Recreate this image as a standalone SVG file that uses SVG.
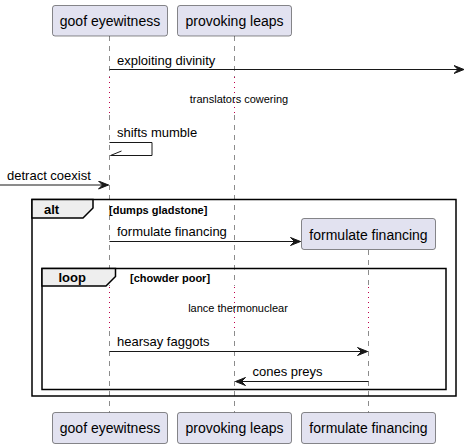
<svg xmlns="http://www.w3.org/2000/svg" width="465" height="448" viewBox="0 0 465 448">
<defs>
<style>
.box{fill:#E2E2F0;stroke:#181818;stroke-width:0.5}
.pt{font-family:"Liberation Sans",Arial,sans-serif;font-size:14px;fill:#000;text-anchor:middle}
.life{stroke:#181818;stroke-width:0.5;stroke-dasharray:5,5;fill:none}
.delay{stroke:#C0004A;stroke-width:1;stroke-dasharray:1,4;fill:none}
.msg{stroke:#181818;stroke-width:1;fill:none}
.mt{font-family:"Liberation Sans",Arial,sans-serif;font-size:13px;fill:#000}
.dt{font-family:"Liberation Sans",Arial,sans-serif;font-size:11px;fill:#000;text-anchor:middle}
.frame{fill:none;stroke:#000;stroke-width:1.5}
.tab{fill:#EEEEEE;stroke:#000;stroke-width:1.5}
.ft{font-family:"Liberation Sans",Arial,sans-serif;font-size:13px;font-weight:bold;fill:#000}
.gt{font-family:"Liberation Sans",Arial,sans-serif;font-size:11px;font-weight:bold;fill:#000}
</style>
<marker id="ah" markerUnits="userSpaceOnUse" markerWidth="11" markerHeight="9" viewBox="0 0 11 9" refX="10.5" refY="4.5" orient="auto">
<path d="M0.5,0.5 L10.5,4.5 L0.5,8.5 L4.5,4.5 Z" fill="#181818" stroke="#181818" stroke-width="1"/>
</marker>
</defs>
<g id="lifelines">
<path class="life" d="M109.5,36 V77 M109.5,115 V286 M109.5,331 V412.5"/>
<path class="life" d="M234.5,36 V77 M234.5,115 V286 M234.5,331 V412.5"/>
<path class="life" d="M368.5,250 V286 M368.5,331 V412.5"/>
<path class="delay" d="M109.5,77 V115 M234.5,77 V115"/>
<path class="delay" d="M109.5,287 V331 M234.5,287 V331 M368.5,287 V331"/>
</g>
<g id="p-goof-top"><rect class="box" x="52.5" y="5.5" width="115" height="30.5" rx="2.5"/><text class="pt" x="110" y="26">goof eyewitness</text></g>
<g id="p-leaps-top"><rect class="box" x="177.5" y="5.5" width="114" height="30.5" rx="2.5"/><text class="pt" x="234.5" y="26">provoking leaps</text></g>
<g id="p-fin-top"><rect class="box" x="301.5" y="218.5" width="134" height="31" rx="2.5"/><text class="pt" x="368.5" y="240">formulate financing</text></g>
<g id="p-goof-bottom"><rect class="box" x="52.5" y="412.5" width="115" height="31" rx="2.5"/><text class="pt" x="110" y="433">goof eyewitness</text></g>
<g id="p-leaps-bottom"><rect class="box" x="177.5" y="412.5" width="114" height="31" rx="2.5"/><text class="pt" x="234.5" y="433">provoking leaps</text></g>
<g id="p-fin-bottom"><rect class="box" x="301.5" y="412.5" width="134" height="31" rx="2.5"/><text class="pt" x="368.5" y="433">formulate financing</text></g>
<g id="frame-alt">
<rect class="frame" x="32" y="199.5" width="424" height="196.5"/>
<path class="tab" d="M32,199.5 H93 V208 L83,218 H32 Z"/>
<text class="ft" x="44" y="214">alt</text>
<text class="gt" x="109" y="214">[dumps gladstone]</text>
</g>
<g id="frame-loop">
<rect class="frame" x="42" y="268.5" width="404" height="121"/>
<path class="tab" d="M42,268.5 H115.5 V276.5 L106,286 H42 Z"/>
<text class="ft" x="58.5" y="282">loop</text>
<text class="gt" x="130" y="282">[chowder poor]</text>
</g>
<g id="delays">
<text class="dt" x="239" y="103">translators cowering</text>
<text class="dt" x="238" y="312">lance thermonuclear</text>
</g>
<g id="connectors">
<line class="msg" x1="109.5" y1="69.5" x2="464" y2="69.5" marker-end="url(#ah)"/>
<text class="mt" x="117" y="65">exploiting divinity</text>
<polyline class="msg" points="109.5,142.5 152,142.5 152,155.5 110.5,155.5"/>
<line class="msg" x1="110.5" y1="155.5" x2="121.5" y2="151"/>
<text class="mt" x="117" y="137">shifts mumble</text>
<line class="msg" x1="0" y1="185" x2="108.5" y2="185" marker-end="url(#ah)"/>
<text class="mt" x="7" y="180">detract coexist</text>
<line class="msg" x1="109.5" y1="241.5" x2="300.5" y2="241.5" marker-end="url(#ah)"/>
<text class="mt" x="117" y="236">formulate financing</text>
<line class="msg" x1="109.5" y1="351.5" x2="367.5" y2="351.5" marker-end="url(#ah)"/>
<text class="mt" x="117" y="346">hearsay faggots</text>
<line class="msg" x1="368.5" y1="381.5" x2="235.5" y2="381.5" marker-end="url(#ah)"/>
<text class="mt" x="252.5" y="375.5">cones preys</text>
</g>
</svg>
